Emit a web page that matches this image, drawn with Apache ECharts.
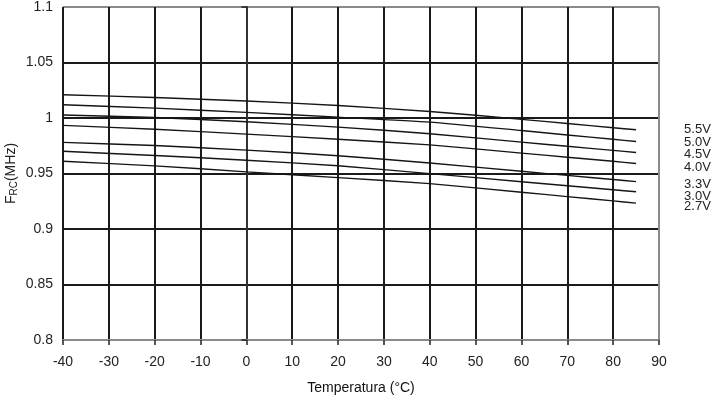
<!DOCTYPE html>
<html>
<head>
<meta charset="utf-8">
<script src="https://cdn.jsdelivr.net/npm/echarts@6/dist/echarts.min.js"></script>
<style>
  html, body { margin: 0; padding: 0; background: #fff; }
  #chart { width: 715px; height: 398px; }
</style>
</head>
<body>
<div id="chart"></div>
<script>
// temperatures
const temps = [-40, -20, 0, 20, 40, 60, 70, 80, 85];

const names = ['5.5V', '5.0V', '4.5V', '4.0V', '3.3V', '3.0V', '2.7V'];

const v55 = [1.0210, 1.0185, 1.0153, 1.0113, 1.0059, 0.9988, 0.9950, 0.9912, 0.9894];
const v50 = [1.0120, 1.0089, 1.0051, 1.0008, 0.9963, 0.9887, 0.9847, 0.9808, 0.9788];
const v45 = [1.0027, 1.0004, 0.9966, 0.9918, 0.9858, 0.9783, 0.9745, 0.9708, 0.9689];
const v40 = [0.9934, 0.9898, 0.9855, 0.9808, 0.9758, 0.9684, 0.9647, 0.9610, 0.9590];
const v33 = [0.9780, 0.9752, 0.9711, 0.9660, 0.9595, 0.9520, 0.9483, 0.9446, 0.9427];
const v30 = [0.9700, 0.9662, 0.9620, 0.9570, 0.9499, 0.9426, 0.9390, 0.9353, 0.9335];
const v27 = [0.9610, 0.9569, 0.9515, 0.9463, 0.9409, 0.9331, 0.9292, 0.9253, 0.9233];

const allValues = [v55, v50, v45, v40, v33, v30, v27];

// vertical nudge of the right-hand labels
const labelShift = [0, 1, 2, 4, 3, 5, 3];

let chart = echarts.init(document.getElementById('chart'));

let series = [];
for (let i = 0; i < names.length; i++) {
  series.push({
    name: names[i],
    type: 'line',
    showSymbol: false,
    symbol: 'none',
    smooth: 0.2,
    data: temps.map((t, j) => [t, allValues[i][j]]),
    lineStyle: { color: '#151515', width: 1.4 },
    endLabel: {
      show: true,
      formatter: names[i],
      distance: 48,
      offset: [0, labelShift[i]],
      color: '#222',
      fontSize: 13,
      fontFamily: 'Liberation Sans'
    }
  });
}

let xGridColors = [];
for (let k = 0; k < 14; k++) xGridColors.push(k === 13 ? '#8a8a8a' : '#1a1a1a');

let option = {
  animation: false,
  textStyle: { fontFamily: 'Liberation Sans' },
  grid: { left: 63, right: 56, top: 7, bottom: 58, containLabel: false, outerBoundsMode: 'none' },
  xAxis: {
    type: 'value',
    min: -40,
    max: 90,
    interval: 10,
    name: 'Temperatura (°C)',
    nameLocation: 'middle',
    nameGap: 41,
    nameTextStyle: { color: '#111', fontSize: 14 },
    axisLine: { onZero: false, lineStyle: { color: '#8a8a8a', width: 2 } },
    axisTick: { show: true, length: 5, lineStyle: { color: '#222', width: 1.5 } },
    axisLabel: { color: '#222', fontSize: 14, margin: 15 },
    splitLine: { show: true, lineStyle: { color: xGridColors, width: 2 } }
  },
  yAxis: {
    type: 'value',
    min: 0.8,
    max: 1.1,
    interval: 0.05,
    name: '{a|F}{b|RC}{a|(MHz)}',
    nameLocation: 'middle',
    nameGap: 44,
    nameMoveOverlap: false,
    nameRotate: 90,
    nameTextStyle: {
      rich: {
        a: { fontSize: 14, color: '#222', fontFamily: 'Liberation Sans' },
        b: { fontSize: 10, color: '#222', fontFamily: 'Liberation Sans', padding: [5, 0, 0, 0] }
      }
    },
    axisLine: { show: true, lineStyle: { color: '#333', width: 2 } },
    axisTick: { show: true, length: 5, lineStyle: { color: '#222', width: 1.5 } },
    axisLabel: {
      color: '#222',
      fontSize: 14,
      margin: 10,
      formatter: (v) => String(parseFloat(v.toFixed(2)))
    },
    splitLine: {
      show: true,
      lineStyle: {
        color: ['#8a8a8a', '#1a1a1a', '#1a1a1a', '#1a1a1a', '#1a1a1a', '#1a1a1a', '#8a8a8a'],
        width: 2
      }
    }
  },
  series: series
};

chart.setOption(option);
</script>
</body>
</html>
